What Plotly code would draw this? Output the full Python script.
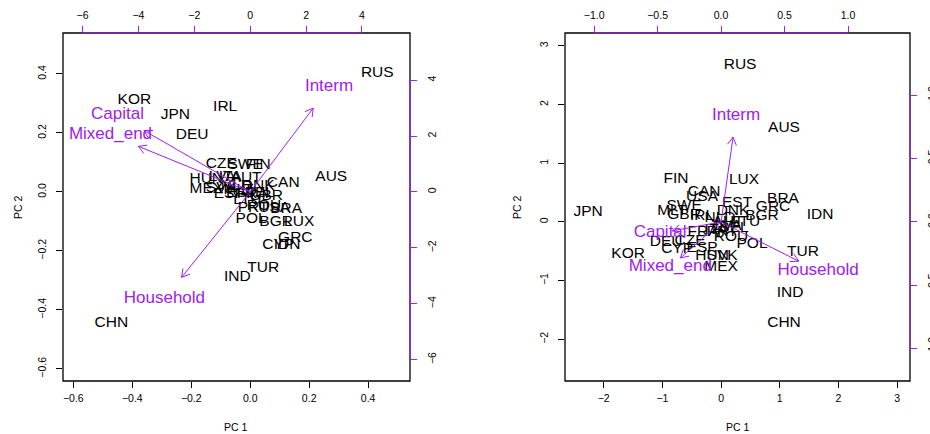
import math
import plotly.graph_objects as go

# ---- data -------------------------------------------------------------
countries = ["RUS", "KOR", "JPN", "IRL", "DEU", "AUS", "CAN", "CZE", "SWE", "FIN",
             "HUN", "LVA", "ITA", "AUT", "MEX", "SVK", "NLD", "DNK", "ESP", "EST",
             "FRA", "GBR", "BEL", "PRT", "USA", "BRA", "ROU", "POL", "BGR", "LUX",
             "GRC", "CYP", "IDN", "TUR", "IND", "CHN", "LTU", "MLT"]

# panel A scores (PC1, PC2)
pc1_a = [0.431, -0.393, -0.254, -0.085, -0.197, 0.275, 0.112, -0.098, -0.017, 0.027,
         -0.149, -0.095, -0.068, -0.014, -0.149, -0.098, -0.047, 0.027, -0.071, -0.031,
         0.007, 0.054, 0.031, 0.010, 0.081, 0.122, 0.047, 0.003, 0.088, 0.166,
         0.153, 0.095, 0.125, 0.044, -0.044, -0.471, -0.010, -0.040]
pc2_a = [0.403, 0.312, 0.261, 0.288, 0.193, 0.051, 0.031, 0.095, 0.092, 0.092,
         0.044, 0.051, 0.051, 0.047, 0.010, 0.014, 0.020, 0.020, -0.007, -0.003,
         -0.007, -0.014, -0.003, -0.054, -0.054, -0.058, -0.047, -0.092, -0.102, -0.102,
         -0.156, -0.180, -0.180, -0.258, -0.288, -0.444, -0.027, 0.005]

# panel B scores (PC1, PC2)
pc1_b = [0.324, -1.584, -2.266, -0.324, -0.937, 1.073, -0.290, -0.528, -0.630, -0.767,
         -0.153, 0.120, -0.085, 0.119, 0.000, 0.017, -0.017, 0.204, -0.324, 0.273,
         -0.307, -0.630, 0.220, 0.017, -0.324, 1.056, 0.170, 0.528, 0.698, 0.392,
         0.886, -0.750, 1.687, 1.397, 1.175, 1.073, 0.426, -0.835]
pc2_b = [2.675, -0.545, 0.170, 0.102, -0.341, 1.601, 0.511, -0.324, 0.273, 0.733,
         -0.579, -0.070, -0.136, 0.000, -0.767, -0.579, 0.068, 0.187, -0.443, 0.324,
         -0.170, 0.119, -0.100, -0.170, 0.426, 0.392, -0.256, -0.375, 0.102, 0.716,
         0.256, -0.460, 0.119, -0.511, -1.210, -1.721, 0.000, 0.187]

variables = ["Capital", "Mixed_end", "Household", "Interm"]
load1_a = [-4.75, -5.00, -3.07, 2.82]
load2_a = [2.75, 2.04, -3.82, 3.75]
load1_b = [-0.48, -0.40, 0.764, 0.118]
load2_b = [-0.087, -0.354, -0.386, 0.835]

ticks_pc_a = [-0.6, -0.4, -0.2, 0.0, 0.2, 0.4]
ticks_load_a = [-6, -4, -2, 0, 2, 4]
ticks_pc_b = [-2, -1, 0, 1, 2, 3]
ticks_load_b = [-1.0, -0.5, 0.0, 0.5, 1.0]

# ---- layout constants -------------------------------------------------
W, H = 930, 434
FONT = "Liberation Sans, Arial, sans-serif"
PURPLE = "#A020F0"
ARROW_SCALE = 0.8
HEAD_PX = 9

dom_y = [1 - 381 / H, 1 - 33 / H]
dom_xa = [63 / W, 410 / W]
dom_xb = [565 / W, 910 / W]

rx_a, ry_a = [-0.635, 0.542], [-0.641, 0.539]
ratio_a = 10.55
rx2_a = [v * ratio_a for v in rx_a]
ry2_a = [v * ratio_a for v in ry_a]

rx_b, ry_b = [-2.66, 3.22], [-2.71, 3.22]
ratio_b = 0.4622
rx2_b = [v * ratio_b for v in rx_b]
ry2_b = [v * ratio_b for v in ry_b]

fig = go.Figure()


def add_panel(xs, ys, lx, ly, xa, ya, xa2, ya2, rx2, ry2, dom_x):
    fig.add_trace(go.Scatter(
        x=xs, y=ys, text=countries, mode="text", xaxis=xa, yaxis=ya,
        textfont=dict(family=FONT, size=15.5, color="black"),
        textposition="middle center", cliponaxis=False, hoverinfo="skip",
        showlegend=False))
    # pixel scale of the loading axes
    sx = (dom_x[1] - dom_x[0]) * W / (rx2[1] - rx2[0])
    sy = (dom_y[1] - dom_y[0]) * H / (ry2[1] - ry2[0])
    lxs, lys = [], []
    for a, b in zip(lx, ly):
        tx, ty = a * ARROW_SCALE, b * ARROW_SCALE
        lxs += [0, tx, None]
        lys += [0, ty, None]
        px, py = tx * sx, ty * sy
        n = math.hypot(px, py)
        dx, dy = px / n, py / n
        for ang in (math.radians(30), -math.radians(30)):
            hx = -(dx * math.cos(ang) - dy * math.sin(ang)) * HEAD_PX
            hy = -(dx * math.sin(ang) + dy * math.cos(ang)) * HEAD_PX
            lxs += [tx, tx + hx / sx, None]
            lys += [ty, ty + hy / sy, None]
    fig.add_trace(go.Scatter(
        x=lxs, y=lys, mode="lines", xaxis=xa2, yaxis=ya2,
        line=dict(color=PURPLE, width=1), hoverinfo="skip", showlegend=False))
    fig.add_trace(go.Scatter(
        x=lx, y=ly, text=variables, mode="text", xaxis=xa2, yaxis=ya2,
        textfont=dict(family=FONT, size=17, color=PURPLE),
        textposition="middle center", cliponaxis=False, hoverinfo="skip",
        showlegend=False))


add_panel(pc1_a, pc2_a, load1_a, load2_a, "x", "y", "x2", "y2", rx2_a, ry2_a, dom_xa)
add_panel(pc1_b, pc2_b, load1_b, load2_b, "x3", "y3", "x4", "y4", rx2_b, ry2_b, dom_xb)

tickfont = dict(family=FONT, size=10.5, color="black")
base = dict(showgrid=False, zeroline=False, showline=False, ticks="outside",
            ticklen=6, tickwidth=1, tickfont=tickfont, automargin=False,
            fixedrange=True)


def ax(**kw):
    d = dict(base)
    d.update(kw)
    return d


fig.update_layout(
    width=W, height=H, margin=dict(l=0, r=0, t=0, b=0),
    template="none", paper_bgcolor="white", plot_bgcolor="white",
    showlegend=False,
    xaxis=ax(domain=dom_xa, range=rx_a, anchor="y", tickvals=ticks_pc_a,
             tickformat=".1f", tickcolor="black", ticklabelstandoff=1),
    yaxis=ax(domain=dom_y, range=ry_a, anchor="x", tickvals=ticks_pc_a,
             tickformat=".1f", tickcolor="black", tickangle=-90, ticklabelstandoff=6),
    xaxis2=ax(overlaying="x", side="top", anchor="y", range=rx2_a,
              tickvals=ticks_load_a, tickcolor=PURPLE, ticklabelstandoff=3),
    yaxis2=ax(overlaying="y", side="right", anchor="x", range=ry2_a,
              tickvals=ticks_load_a, tickcolor=PURPLE, tickangle=-90, ticklabelstandoff=6),
    xaxis3=ax(domain=dom_xb, range=rx_b, anchor="y3", tickvals=ticks_pc_b,
              tickformat="d", tickcolor="black", ticklabelstandoff=1),
    yaxis3=ax(domain=dom_y, range=ry_b, anchor="x3", tickvals=ticks_pc_b,
              tickformat="d", tickcolor="black", tickangle=-90, ticklabelstandoff=6),
    xaxis4=ax(overlaying="x3", side="top", anchor="y3", range=rx2_b,
              tickvals=ticks_load_b, tickformat=".1f", tickcolor=PURPLE,
              ticklabelstandoff=3),
    yaxis4=ax(overlaying="y3", side="right", anchor="x3", range=ry2_b,
              tickvals=ticks_load_b, tickformat=".1f", tickcolor=PURPLE,
              tickangle=-90, ticklabelstandoff=6),
)

shapes = []
for xr, yr in (("x", "y"), ("x3", "y3")):
    shapes.append(dict(type="rect", xref=f"{xr} domain", yref=f"{yr} domain",
                       x0=0, x1=1, y0=0, y1=1, line=dict(color="black", width=1.3),
                       layer="above"))
# purple axis lines of the loading scales
for xr2, yr, ticks in (("x2", "y", ticks_load_a), ("x4", "y3", ticks_load_b)):
    shapes.append(dict(type="line", xref=xr2, yref=f"{yr} domain",
                       x0=ticks[0], x1=ticks[-1], y0=1, y1=1,
                       line=dict(color=PURPLE, width=1), layer="above"))
for xr, yr2, ticks in (("x", "y2", ticks_load_a), ("x3", "y4", ticks_load_b)):
    shapes.append(dict(type="line", xref=f"{xr} domain", yref=yr2,
                       x0=1, x1=1, y0=ticks[0], y1=ticks[-1],
                       line=dict(color=PURPLE, width=1), layer="above"))
fig.update_layout(shapes=shapes)

title_font = dict(family=FONT, size=10.5, color="black")
annotations = []
for cx in ((dom_xa[0] + dom_xa[1]) / 2, (dom_xb[0] + dom_xb[1]) / 2):
    annotations.append(dict(text="PC 1", xref="paper", yref="paper", x=cx,
                            y=1 - 427 / H, showarrow=False, font=title_font,
                            xanchor="center", yanchor="middle"))
for px in (18, 517):
    annotations.append(dict(text="PC 2", xref="paper", yref="paper", x=px / W,
                            y=(dom_y[0] + dom_y[1]) / 2, showarrow=False,
                            font=title_font, textangle=-90,
                            xanchor="center", yanchor="middle"))
fig.update_layout(annotations=annotations)

fig.write_html("out.html")
